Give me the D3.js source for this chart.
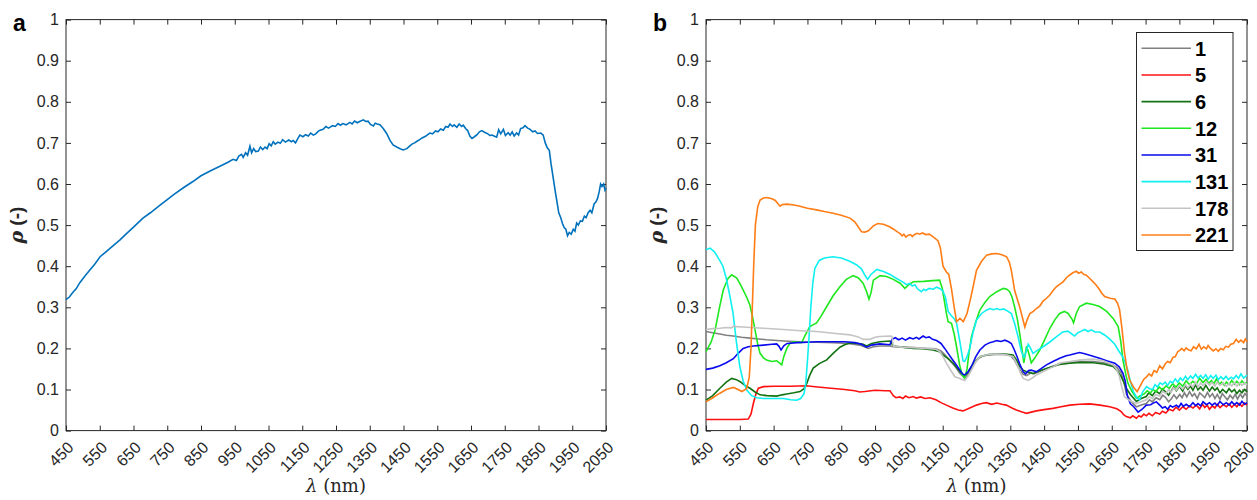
<!DOCTYPE html>
<html>
<head>
<meta charset="utf-8">
<script src="https://cdn.jsdelivr.net/npm/d3@7"></script>
<style>
  body { margin: 0; background: #fff; }
  svg { font-family: "Liberation Sans", Arial, sans-serif; }
  .tick text { font-size: 16px; fill: #262626; }
  .domain { stroke: none; }
  .tick line { stroke: #262626; }
</style>
</head>
<body>
<svg id="fig" width="1257" height="500"></svg>
<script>
// wavelength ticks and reflectance ticks
const xTicks = [450,550,650,750,850,950,1050,1150,1250,1350,1450,1550,1650,1750,1850,1950,2050];
const yTicks = [0,0.1,0.2,0.3,0.4,0.5,0.6,0.7,0.8,0.9,1];

// panel a: single spectrum [lambda, rho]
const specA = [[450,.319],[460,.325],[470,.336],[480,.345],[491,.360],[505,.375],[520,.390],[535,.405],[551,.423],[570,.436],[590,.450],[610,.464],[630,.480],[650,.495],[678,.517],[700,.530],[725,.546],[748,.561],[770,.575],[800,.592],[826,.606],[850,.620],[880,.633],[906,.643],[930,.653],[945,.660],[955,.657],[962,.668],[970,.672],[975,.665],[982,.676],[988,.670],[995,.692],[1000,.676],[1006,.686],[1012,.679],[1020,.680],[1026,.690],[1033,.684],[1040,.690],[1046,.686],[1052,.698],[1058,.693],[1064,.703],[1070,.697],[1078,.702],[1085,.699],[1092,.708],[1100,.702],[1110,.707],[1118,.703],[1123,.706],[1130,.700],[1138,.712],[1143,.719],[1152,.715],[1160,.720],[1168,.717],[1175,.724],[1183,.719],[1190,.722],[1197,.728],[1203,.731],[1212,.733],[1220,.740],[1228,.736],[1240,.742],[1248,.740],[1256,.747],[1263,.743],[1270,.747],[1280,.744],[1291,.750],[1298,.746],[1305,.753],[1313,.749],[1320,.752],[1331,.756],[1338,.752],[1345,.753],[1352,.745],[1361,.741],[1366,.748],[1372,.746],[1380,.744],[1390,.735],[1400,.723],[1410,.706],[1419,.695],[1430,.690],[1440,.686],[1449,.683],[1460,.686],[1468,.692],[1475,.697],[1483,.700],[1490,.704],[1498,.708],[1505,.712],[1515,.716],[1528,.724],[1536,.722],[1545,.729],[1552,.727],[1560,.734],[1568,.731],[1575,.740],[1582,.738],[1588,.746],[1595,.740],[1600,.744],[1608,.738],[1615,.746],[1622,.740],[1627,.743],[1634,.735],[1640,.730],[1647,.716],[1653,.711],[1660,.715],[1668,.720],[1675,.727],[1682,.730],[1690,.726],[1700,.722],[1706,.718],[1712,.719],[1720,.716],[1726,.714],[1732,.732],[1738,.722],[1746,.733],[1752,.718],[1760,.725],[1766,.719],[1772,.727],[1778,.717],[1785,.724],[1791,.719],[1797,.735],[1804,.737],[1810,.742],[1818,.736],[1825,.733],[1833,.727],[1840,.729],[1847,.723],[1857,.724],[1864,.719],[1870,.700],[1876,.688],[1882,.682],[1887,.650],[1893,.618],[1900,.580],[1905,.555],[1910,.530],[1916,.518],[1921,.504],[1926,.494],[1931,.490],[1936,.474],[1941,.482],[1947,.478],[1953,.490],[1958,.485],[1963,.505],[1968,.500],[1974,.510],[1980,.509],[1986,.522],[1991,.518],[1997,.530],[2003,.536],[2008,.530],[2015,.552],[2020,.556],[2025,.565],[2030,.582],[2034,.600],[2038,.594],[2043,.600],[2047,.585],[2050,.590]];

// panel b: eight spectra
const s1 = [[450,.241],[470,.238],[491,.235],[510,.232],[531,.230],[555,.227],[580,.225],[605,.223],[629,.221],[680,.218],[728,.216],[777,.215],[826,.214],[870,.212],[905,.208],[918,.204],[930,.200],[945,.204],[964,.206],[994,.206],[1004,.204],[1030,.203],[1063,.202],[1100,.200],[1130,.199],[1145,.194],[1156,.185],[1170,.172],[1185,.158],[1200,.140],[1215,.128],[1228,.140],[1240,.160],[1255,.175],[1270,.182],[1300,.185],[1330,.185],[1350,.183],[1362,.172],[1375,.152],[1388,.137],[1398,.134],[1410,.140],[1420,.138],[1440,.145],[1460,.152],[1480,.158],[1496,.163],[1526,.166],[1560,.168],[1595,.168],[1625,.165],[1654,.160],[1667,.152],[1678,.140],[1686,.118],[1693,.090],[1708,.070],[1723,.058],[1737,.062],[1752,.066],[1762,.075],[1770,.070],[1781,.080],[1792,.075],[1801,.086],[1810,.080],[1818,.070],[1825,.076],[1834,.087],[1842,.078],[1851,.088],[1858,.080],[1865,.092],[1872,.082],[1880,.095],[1888,.084],[1895,.090],[1903,.078],[1910,.092],[1918,.086],[1925,.080],[1933,.093],[1940,.082],[1948,.090],[1955,.078],[1962,.088],[1970,.076],[1977,.090],[1985,.082],[1992,.075],[2000,.086],[2008,.078],[2015,.088],[2022,.077],[2030,.089],[2037,.080],[2044,.090],[2050,.084]];
const s5 = [[450,.027],[500,.027],[550,.027],[575,.028],[583,.040],[590,.066],[598,.090],[605,.103],[620,.107],[650,.108],[700,.108],[747,.109],[780,.106],[820,.103],[860,.100],[890,.097],[905,.094],[920,.095],[950,.098],[980,.097],[994,.097],[1000,.090],[1004,.085],[1012,.080],[1023,.082],[1032,.078],[1040,.084],[1050,.080],[1063,.083],[1072,.079],[1085,.082],[1098,.078],[1112,.080],[1130,.075],[1145,.068],[1161,.062],[1180,.055],[1196,.050],[1210,.048],[1225,.053],[1250,.062],[1265,.066],[1279,.068],[1295,.064],[1310,.067],[1325,.064],[1338,.062],[1355,.055],[1368,.050],[1385,.045],[1398,.042],[1412,.045],[1427,.048],[1450,.051],[1476,.054],[1500,.058],[1526,.062],[1555,.064],[1585,.065],[1615,.062],[1644,.058],[1665,.053],[1678,.046],[1686,.038],[1693,.034],[1705,.031],[1712,.036],[1723,.030],[1730,.036],[1737,.033],[1745,.040],[1752,.036],[1760,.042],[1770,.036],[1780,.044],[1792,.040],[1800,.047],[1810,.043],[1820,.052],[1831,.048],[1840,.057],[1850,.050],[1860,.058],[1870,.052],[1880,.060],[1890,.055],[1900,.062],[1910,.053],[1918,.064],[1925,.056],[1932,.062],[1939,.052],[1947,.060],[1955,.055],[1962,.064],[1970,.056],[1980,.063],[1989,.058],[1997,.065],[2005,.057],[2013,.064],[2020,.058],[2027,.066],[2035,.059],[2043,.067],[2050,.062]];
const s6 = [[450,.074],[470,.085],[491,.103],[510,.118],[526,.127],[540,.124],[551,.119],[565,.110],[580,.103],[595,.094],[610,.087],[630,.085],[659,.084],[675,.087],[689,.089],[710,.092],[728,.095],[740,.102],[748,.115],[757,.135],[767,.152],[785,.163],[807,.172],[826,.188],[846,.203],[860,.209],[876,.213],[900,.212],[915,.210],[925,.206],[940,.212],[964,.216],[994,.218],[1004,.206],[1030,.203],[1063,.200],[1090,.199],[1122,.196],[1140,.192],[1151,.184],[1166,.175],[1181,.164],[1195,.150],[1206,.139],[1215,.133],[1225,.142],[1235,.156],[1248,.170],[1260,.180],[1285,.185],[1309,.186],[1335,.186],[1358,.184],[1368,.172],[1378,.156],[1388,.147],[1398,.143],[1408,.141],[1417,.139],[1435,.145],[1457,.151],[1476,.156],[1496,.161],[1526,.164],[1560,.166],[1595,.165],[1625,.162],[1654,.156],[1667,.145],[1678,.131],[1686,.117],[1693,.103],[1705,.088],[1723,.071],[1737,.078],[1752,.083],[1760,.092],[1770,.085],[1780,.096],[1792,.090],[1800,.101],[1810,.094],[1818,.086],[1825,.095],[1833,.106],[1841,.097],[1850,.108],[1860,.096],[1867,.110],[1875,.100],[1883,.108],[1890,.098],[1898,.112],[1905,.099],[1913,.106],[1920,.098],[1928,.110],[1939,.096],[1947,.106],[1955,.098],[1962,.104],[1970,.092],[1978,.100],[1989,.092],[1997,.102],[2005,.094],[2013,.100],[2020,.090],[2028,.098],[2035,.092],[2043,.100],[2050,.094]];
const s12 = [[450,.192],[465,.215],[477,.245],[490,.300],[501,.342],[515,.370],[526,.379],[541,.371],[550,.358],[560,.342],[570,.325],[580,.305],[588,.275],[595,.245],[603,.210],[610,.188],[620,.177],[629,.172],[645,.168],[659,.170],[667,.165],[674,.160],[680,.180],[689,.200],[698,.212],[708,.216],[720,.215],[733,.214],[745,.235],[757,.253],[777,.262],[790,.278],[807,.302],[826,.328],[846,.350],[865,.368],[885,.377],[900,.372],[915,.358],[924,.340],[932,.320],[938,.335],[945,.366],[965,.377],[984,.375],[1004,.368],[1025,.358],[1038,.346],[1050,.355],[1063,.362],[1094,.363],[1120,.365],[1141,.366],[1149,.345],[1156,.310],[1161,.285],[1166,.265],[1176,.261],[1184,.235],[1191,.204],[1200,.160],[1208,.135],[1215,.128],[1222,.150],[1228,.190],[1235,.228],[1248,.265],[1260,.293],[1275,.312],[1289,.326],[1310,.338],[1329,.346],[1340,.344],[1348,.338],[1355,.325],[1363,.300],[1371,.270],[1378,.235],[1385,.195],[1390,.165],[1394,.185],[1398,.205],[1404,.190],[1412,.165],[1425,.180],[1437,.196],[1452,.222],[1467,.249],[1482,.270],[1496,.285],[1510,.290],[1521,.285],[1532,.272],[1537,.262],[1545,.285],[1555,.302],[1575,.310],[1595,.307],[1614,.302],[1635,.290],[1654,.273],[1669,.253],[1677,.215],[1683,.172],[1692,.135],[1698,.115],[1710,.095],[1723,.079],[1735,.085],[1747,.090],[1755,.097],[1764,.091],[1772,.100],[1781,.095],[1790,.106],[1800,.099],[1811,.109],[1820,.103],[1830,.114],[1840,.106],[1850,.116],[1860,.108],[1870,.121],[1880,.112],[1890,.120],[1900,.113],[1910,.127],[1920,.117],[1929,.125],[1937,.115],[1945,.122],[1952,.114],[1960,.126],[1968,.113],[1975,.118],[1983,.110],[1989,.118],[1997,.112],[2005,.122],[2013,.113],[2020,.120],[2028,.112],[2035,.121],[2043,.114],[2050,.118]];
const s31 = [[450,.149],[470,.152],[491,.158],[510,.165],[531,.175],[545,.188],[560,.200],[575,.204],[590,.206],[620,.208],[645,.210],[659,.211],[666,.205],[672,.196],[680,.206],[690,.212],[720,.214],[750,.215],[777,.216],[820,.216],[860,.216],[890,.214],[910,.210],[925,.203],[940,.208],[964,.211],[994,.209],[1000,.222],[1010,.226],[1020,.221],[1030,.225],[1040,.220],[1052,.226],[1063,.223],[1072,.227],[1080,.223],[1092,.230],[1100,.226],[1110,.228],[1120,.222],[1132,.219],[1145,.212],[1156,.200],[1166,.188],[1176,.176],[1190,.160],[1201,.147],[1209,.138],[1215,.135],[1225,.143],[1235,.156],[1248,.180],[1260,.196],[1275,.208],[1289,.214],[1300,.216],[1310,.219],[1322,.217],[1334,.220],[1345,.216],[1353,.212],[1361,.198],[1368,.184],[1378,.162],[1388,.143],[1395,.138],[1404,.146],[1412,.147],[1420,.145],[1427,.143],[1440,.150],[1457,.160],[1476,.168],[1496,.176],[1515,.182],[1526,.184],[1540,.187],[1555,.190],[1570,.187],[1590,.182],[1614,.176],[1635,.170],[1659,.164],[1672,.155],[1683,.140],[1690,.120],[1696,.085],[1705,.065],[1715,.058],[1728,.045],[1740,.052],[1752,.062],[1765,.063],[1775,.068],[1782,.070],[1792,.062],[1800,.055],[1808,.058],[1815,.052],[1823,.061],[1830,.057],[1841,.062],[1848,.057],[1855,.066],[1862,.059],[1870,.064],[1880,.058],[1890,.068],[1898,.061],[1905,.066],[1913,.060],[1920,.070],[1930,.063],[1939,.068],[1947,.062],[1955,.067],[1962,.061],[1970,.071],[1980,.063],[1989,.068],[1997,.062],[2005,.070],[2013,.063],[2020,.068],[2028,.062],[2035,.071],[2043,.064],[2050,.068]];
const s131 = [[450,.440],[462,.444],[475,.435],[490,.415],[500,.400],[510,.370],[520,.330],[530,.286],[540,.215],[550,.156],[560,.120],[571,.098],[585,.085],[600,.080],[620,.078],[650,.078],[679,.078],[700,.075],[718,.074],[730,.078],[740,.090],[745,.115],[750,.170],[755,.230],[760,.300],[766,.360],[772,.395],[785,.414],[800,.420],[825,.423],[850,.420],[875,.412],[896,.403],[910,.393],[920,.378],[928,.368],[938,.380],[955,.392],[975,.387],[994,.380],[1010,.372],[1025,.365],[1035,.360],[1043,.355],[1052,.358],[1060,.352],[1068,.355],[1075,.345],[1087,.338],[1094,.344],[1100,.341],[1110,.346],[1122,.344],[1132,.349],[1141,.346],[1150,.340],[1158,.325],[1166,.290],[1175,.280],[1184,.272],[1191,.262],[1201,.215],[1210,.170],[1215,.168],[1222,.180],[1230,.200],[1240,.240],[1250,.269],[1265,.285],[1279,.293],[1290,.297],[1300,.294],[1310,.297],[1319,.294],[1330,.296],[1340,.292],[1353,.285],[1363,.260],[1373,.228],[1382,.195],[1390,.178],[1396,.190],[1403,.210],[1410,.200],[1417,.188],[1430,.195],[1447,.204],[1466,.215],[1486,.228],[1505,.240],[1520,.242],[1532,.235],[1540,.230],[1550,.238],[1560,.242],[1570,.246],[1580,.241],[1590,.245],[1600,.240],[1614,.240],[1630,.232],[1645,.222],[1659,.210],[1670,.195],[1682,.180],[1690,.165],[1697,.148],[1705,.120],[1714,.095],[1724,.080],[1732,.075],[1742,.095],[1753,.107],[1762,.102],[1771,.100],[1778,.112],[1785,.106],[1793,.116],[1800,.112],[1808,.118],[1815,.110],[1823,.120],[1830,.116],[1838,.126],[1845,.118],[1853,.128],[1860,.122],[1868,.132],[1875,.124],[1883,.133],[1890,.127],[1898,.137],[1905,.128],[1913,.134],[1920,.127],[1928,.136],[1935,.125],[1943,.134],[1950,.127],[1958,.135],[1965,.124],[1973,.131],[1980,.125],[1988,.132],[1995,.124],[2003,.130],[2010,.126],[2018,.134],[2025,.127],[2032,.138],[2040,.128],[2050,.135]];
const s178 = [[450,.246],[470,.248],[491,.249],[510,.251],[525,.250],[532,.254],[541,.253],[560,.252],[580,.251],[620,.249],[679,.246],[730,.243],[777,.241],[826,.237],[876,.233],[900,.228],[915,.222],[935,.222],[950,.227],[964,.229],[994,.230],[1000,.229],[1004,.205],[1030,.203],[1063,.202],[1100,.200],[1130,.198],[1141,.192],[1151,.180],[1161,.164],[1175,.145],[1186,.131],[1201,.127],[1215,.122],[1225,.132],[1235,.147],[1248,.168],[1260,.180],[1285,.185],[1309,.186],[1335,.185],[1358,.180],[1366,.168],[1373,.155],[1380,.140],[1388,.127],[1403,.122],[1415,.128],[1427,.135],[1450,.145],[1476,.155],[1500,.165],[1526,.168],[1560,.172],[1595,.174],[1625,.170],[1654,.160],[1665,.148],[1673,.131],[1680,.105],[1688,.082],[1705,.072],[1723,.066],[1737,.070],[1752,.075],[1762,.083],[1770,.078],[1780,.088],[1792,.084],[1800,.096],[1810,.090],[1818,.100],[1825,.093],[1833,.104],[1841,.098],[1850,.109],[1860,.101],[1868,.112],[1875,.104],[1883,.113],[1890,.106],[1898,.118],[1905,.106],[1913,.116],[1920,.109],[1930,.119],[1939,.110],[1947,.117],[1955,.108],[1962,.118],[1970,.110],[1980,.116],[1989,.108],[1997,.115],[2005,.109],[2013,.117],[2020,.108],[2028,.116],[2035,.110],[2043,.116],[2050,.111]];
const s221 = [[450,.070],[470,.080],[491,.091],[510,.100],[531,.105],[545,.100],[556,.095],[570,.102],[578,.13],[583,.20],[587,.30],[591,.40],[596,.50],[603,.545],[610,.561],[620,.566],[630,.567],[645,.564],[655,.560],[663,.552],[669,.546],[676,.550],[690,.551],[710,.549],[728,.546],[750,.541],[777,.537],[800,.533],[826,.529],[850,.524],[876,.517],[890,.508],[900,.496],[910,.484],[920,.483],[930,.486],[945,.498],[958,.504],[975,.502],[993,.496],[1005,.490],[1015,.484],[1023,.480],[1030,.474],[1035,.478],[1041,.471],[1047,.475],[1055,.477],[1060,.472],[1065,.476],[1074,.480],[1082,.478],[1090,.481],[1100,.477],[1110,.478],[1121,.472],[1136,.462],[1143,.445],[1151,.400],[1161,.386],[1168,.380],[1176,.345],[1184,.300],[1191,.265],[1201,.273],[1211,.265],[1222,.285],[1232,.320],[1240,.350],[1250,.390],[1265,.412],[1280,.427],[1295,.430],[1309,.431],[1325,.428],[1339,.423],[1347,.410],[1353,.390],[1363,.340],[1378,.300],[1393,.252],[1400,.270],[1408,.285],[1418,.290],[1427,.297],[1437,.303],[1447,.315],[1457,.322],[1467,.330],[1476,.340],[1486,.350],[1496,.356],[1506,.362],[1516,.372],[1525,.378],[1535,.384],[1545,.388],[1552,.383],[1560,.386],[1567,.380],[1575,.378],[1585,.370],[1595,.362],[1603,.355],[1612,.345],[1620,.335],[1629,.326],[1645,.322],[1659,.320],[1667,.310],[1673,.295],[1680,.250],[1688,.188],[1695,.150],[1703,.123],[1715,.105],[1725,.095],[1735,.110],[1745,.125],[1752,.130],[1760,.138],[1768,.133],[1775,.146],[1783,.142],[1792,.158],[1800,.150],[1808,.162],[1815,.168],[1823,.165],[1831,.178],[1838,.180],[1845,.192],[1852,.196],[1857,.200],[1864,.194],[1870,.201],[1878,.196],[1885,.194],[1892,.204],[1900,.199],[1908,.210],[1915,.198],[1922,.204],[1930,.199],[1935,.207],[1942,.200],[1950,.194],[1958,.199],[1965,.193],[1972,.200],[1980,.197],[1987,.205],[1995,.203],[2002,.210],[2010,.212],[2018,.222],[2025,.215],[2032,.220],[2040,.214],[2045,.223],[2050,.216]];

const seriesNames = ['1','5','6','12','31','131','178','221'];
const seriesData = [s1, s5, s6, s12, s31, s131, s178, s221];
const seriesColors = ['#808080','#ff1010','#137313','#1ee81e','#0a0aee','#10f0f0','#c4c4c4','#ff7d16'];

const svg = d3.select('#fig');

function panel(left, right, letter) {
  const top = 19.6, bottom = 430.6;
  const x = d3.scaleLinear().domain([450, 2050]).range([left, right]);
  const y = d3.scaleLinear().domain([0, 1]).range([bottom, top]);
  const g = svg.append('g');

  g.append('g')
    .attr('transform', `translate(0,${bottom})`)
    .call(d3.axisBottom(x).tickValues(xTicks).tickSizeInner(-5).tickSizeOuter(0).tickFormat(d3.format('d')))
    .selectAll('text')
      .attr('y', 0).attr('dy', '0.35em')
      .attr('text-anchor', 'end')
      .attr('transform', 'translate(4,14) rotate(-45)');

  g.append('g')
    .attr('transform', `translate(0,${top})`)
    .call(d3.axisTop(x).tickValues(xTicks).tickSizeInner(-5).tickSizeOuter(0).tickFormat(''));

  g.append('g')
    .attr('transform', `translate(${left},0)`)
    .call(d3.axisLeft(y).tickValues(yTicks).tickSizeInner(-5).tickSizeOuter(0).tickPadding(7).tickFormat(d => d === 0 || d === 1 ? d : d3.format('.1f')(d)));

  g.append('g')
    .attr('transform', `translate(${right},0)`)
    .call(d3.axisRight(y).tickValues(yTicks).tickSizeInner(-5).tickSizeOuter(0).tickFormat(''));

  g.append('rect')
    .attr('x', left).attr('y', top)
    .attr('width', right - left).attr('height', bottom - top)
    .attr('fill', 'none').attr('stroke', '#262626').attr('stroke-width', 1);

  // axis titles
  g.append('text')
    .attr('x', (left + right) / 2).attr('y', 492)
    .attr('text-anchor', 'middle')
    .style('font-family', '"DejaVu Serif", "Liberation Serif", serif')
    .style('font-size', '18px').attr('fill', '#262626')
    .html('<tspan font-style="italic">λ</tspan> (nm)');

  const yl = g.append('text')
    .attr('transform', `translate(${left - 43},${(top + bottom) / 2}) rotate(-90)`)
    .attr('text-anchor', 'middle')
    .style('font-size', '19px').style('font-weight', 'bold').attr('fill', '#262626');
  yl.append('tspan').attr('font-style', 'italic').style('font-family', '"DejaVu Serif", serif').text('ρ');
  yl.append('tspan').text(' (-)');

  svg.append('text')
    .attr('x', left - 53).attr('y', 31)
    .style('font-size', '23px').style('font-weight', 'bold')
    .text(letter);

  return { x, y, g };
}

// panel a
const pa = panel(66, 606, 'a');
const lineA = d3.line().x(d => pa.x(d[0])).y(d => pa.y(d[1]));
pa.g.append('path')
  .attr('d', lineA(specA))
  .attr('fill', 'none').attr('stroke', '#0072BD').attr('stroke-width', 1.6);

// panel b
const pb = panel(706, 1247, 'b');
const lineB = d3.line().x(d => pb.x(d[0])).y(d => pb.y(d[1]));
seriesData.forEach((s, i) => {
  pb.g.append('path')
    .attr('d', lineB(s))
    .attr('fill', 'none').attr('stroke', seriesColors[i]).attr('stroke-width', 1.6);
});

// legend
const leg = svg.append('g');
leg.append('rect')
  .attr('x', 1136.5).attr('y', 32.5).attr('width', 96.5).attr('height', 218)
  .attr('fill', '#fff').attr('stroke', '#262626').attr('stroke-width', 1);
seriesNames.forEach((n, i) => {
  const yy = 48.3 + i * 26.67;
  leg.append('line')
    .attr('x1', 1141.5).attr('x2', 1191).attr('y1', yy).attr('y2', yy)
    .attr('stroke', seriesColors[i]).attr('stroke-width', 1.6);
  leg.append('text')
    .attr('x', 1195).attr('y', yy).attr('dy', '0.36em')
    .style('font-size', '20px').style('font-weight', 'bold')
    .text(n);
});
</script>
</body>
</html>
